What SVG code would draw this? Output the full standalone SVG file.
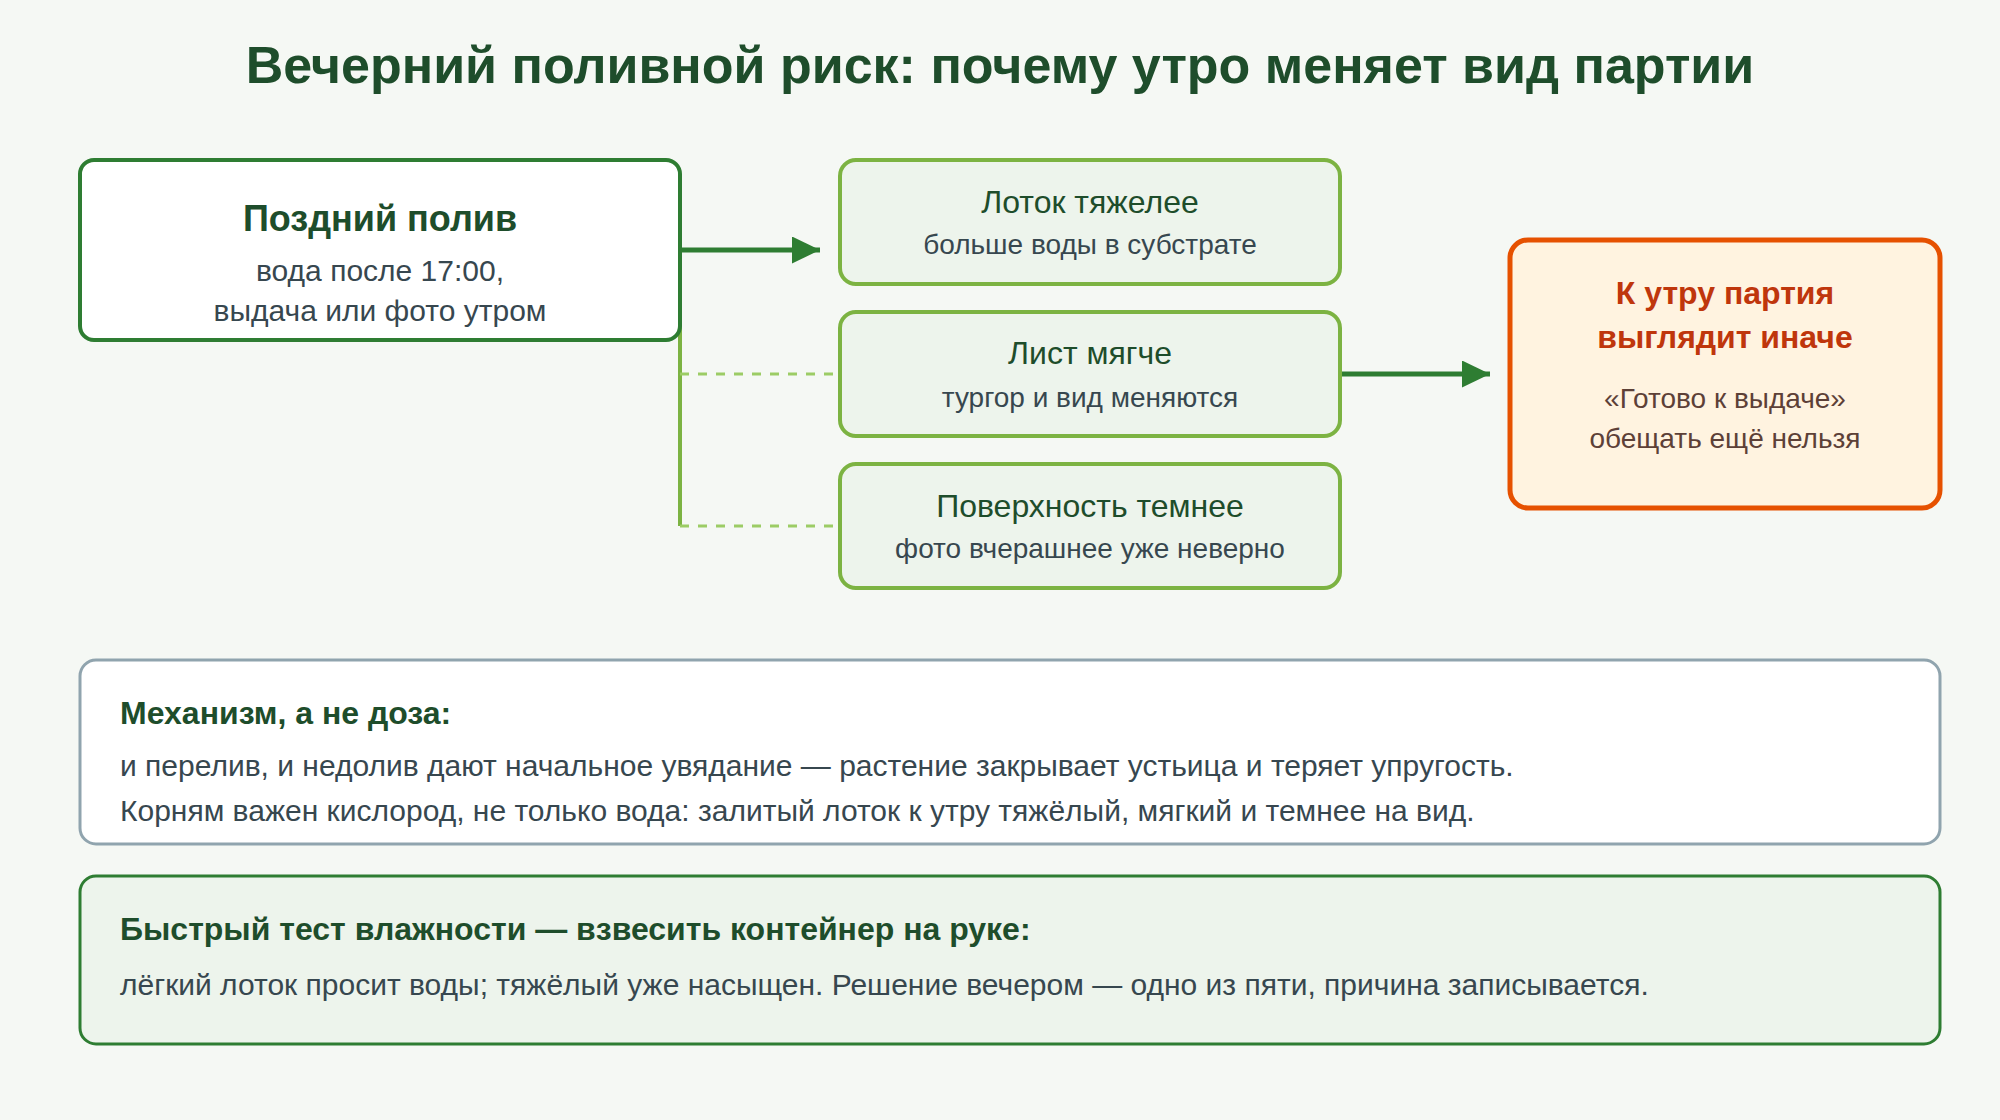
<svg xmlns="http://www.w3.org/2000/svg" width="2000" height="1120" viewBox="0 0 2000 1120">
<defs>
<style>
text{font-family:"Liberation Sans",Arial,sans-serif}
.title{font-size:52px;font-weight:bold;fill:#1e4d2b}
.ntitle{font-size:36px;font-weight:bold;fill:#1e4d2b}
.nsub{font-size:30px;fill:#37474f}
.btitle{font-size:32px;fill:#1e4d2b}
.bsub{font-size:28px;fill:#37474f}
.otitle{font-size:32px;font-weight:bold;fill:#bf360c}
.osub{font-size:28px;fill:#5d4037}
.ph{font-size:32px;font-weight:bold;fill:#1e4d2b}
.pb{font-size:30px;fill:#37474f}
.green{fill:#edf4ec;stroke:#7cb342;stroke-width:4}
</style>
<marker id="ah" markerWidth="28" markerHeight="27" refX="28" refY="13.5" orient="auto" markerUnits="userSpaceOnUse">
<path d="M0,0 L28,13.5 L0,27 Z" fill="#2e7d32"/>
</marker>
</defs>
<rect width="2000" height="1120" fill="#f5f8f4"/>
<text class="title" x="1000" y="83" text-anchor="middle">Вечерний поливной риск: почему утро меняет вид партии</text>

<g id="connectors">
<line x1="680" y1="250" x2="680" y2="526" stroke="#7cb342" stroke-width="4"/>
<line x1="680" y1="374" x2="836" y2="374" stroke="#9ccc65" stroke-width="3" stroke-dasharray="9 9"/>
<line x1="680" y1="526" x2="836" y2="526" stroke="#9ccc65" stroke-width="3" stroke-dasharray="9 9"/>
<line x1="680" y1="250" x2="820" y2="250" stroke="#2e7d32" stroke-width="5" marker-end="url(#ah)"/>
<line x1="1340" y1="374" x2="1490" y2="374" stroke="#2e7d32" stroke-width="5" marker-end="url(#ah)"/>
</g>

<g id="late-watering">
<rect x="80" y="160" width="600" height="180" rx="14" fill="#ffffff" stroke="#2e7d32" stroke-width="4"/>
<text class="ntitle" x="380" y="231" text-anchor="middle">Поздний полив</text>
<text class="nsub" x="380" y="281" text-anchor="middle">вода после 17:00,</text>
<text class="nsub" x="380" y="321" text-anchor="middle">выдача или фото утром</text>
</g>

<g id="tray-heavier">
<rect class="green" x="840" y="160" width="500" height="124" rx="16"/>
<text class="btitle" x="1090" y="213" text-anchor="middle">Лоток тяжелее</text>
<text class="bsub" x="1090" y="254" text-anchor="middle">больше воды в субстрате</text>
</g>

<g id="leaf-softer">
<rect class="green" x="840" y="312" width="500" height="124" rx="16"/>
<text class="btitle" x="1090" y="364" text-anchor="middle">Лист мягче</text>
<text class="bsub" x="1090" y="407" text-anchor="middle">тургор и вид меняются</text>
</g>

<g id="surface-darker">
<rect class="green" x="840" y="464" width="500" height="124" rx="16"/>
<text class="btitle" x="1090" y="517" text-anchor="middle">Поверхность темнее</text>
<text class="bsub" x="1090" y="558" text-anchor="middle">фото вчерашнее уже неверно</text>
</g>

<g id="morning-result">
<rect x="1510" y="240" width="430" height="268" rx="18" fill="#fff3e0" stroke="#e65100" stroke-width="5"/>
<text class="otitle" x="1725" y="304" text-anchor="middle">К утру партия</text>
<text class="otitle" x="1725" y="348" text-anchor="middle">выглядит иначе</text>
<text class="osub" x="1725" y="408" text-anchor="middle">«Готово к выдаче»</text>
<text class="osub" x="1725" y="448" text-anchor="middle">обещать ещё нельзя</text>
</g>

<g id="mechanism-note">
<rect x="80" y="660" width="1860" height="184" rx="16" fill="#ffffff" stroke="#90a4ae" stroke-width="3"/>
<text class="ph" x="120" y="724">Механизм, а не доза:</text>
<text class="pb" x="120" y="776">и перелив, и недолив дают начальное увядание — растение закрывает устьица и теряет упругость.</text>
<text class="pb" x="120" y="821">Корням важен кислород, не только вода: залитый лоток к утру тяжёлый, мягкий и темнее на вид.</text>
</g>

<g id="quick-test">
<rect x="80" y="876" width="1860" height="168" rx="16" fill="#edf4ec" stroke="#2e7d32" stroke-width="3"/>
<text class="ph" x="120" y="940">Быстрый тест влажности — взвесить контейнер на руке:</text>
<text class="pb" x="120" y="995">лёгкий лоток просит воды; тяжёлый уже насыщен. Решение вечером — одно из пяти, причина записывается.</text>
</g>
</svg>
